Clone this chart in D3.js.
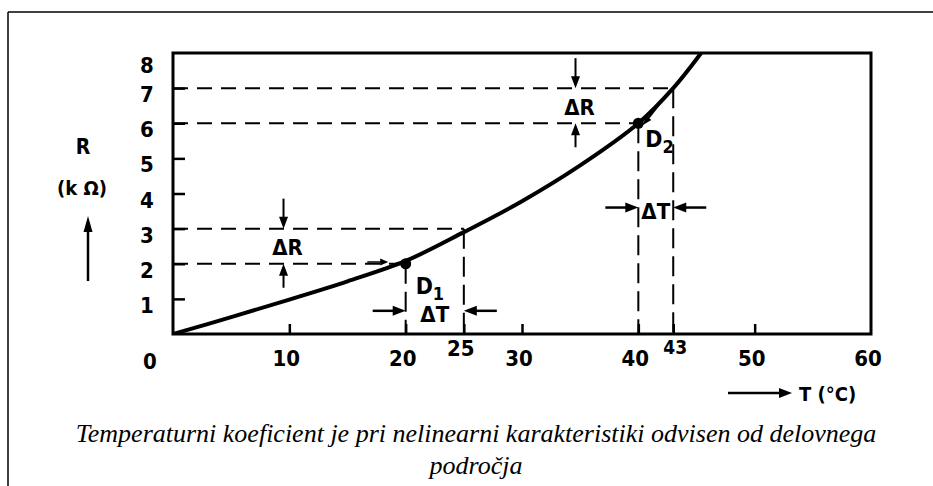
<!DOCTYPE html>
<html>
<head>
<meta charset="utf-8">
<script src="https://cdn.jsdelivr.net/npm/d3@7"></script>
<style>
  html, body { margin: 0; padding: 0; background: #fff; }
  svg { display: block; }
  .lbl { font-family: "DejaVu Sans Condensed", "DejaVu Sans", sans-serif; font-weight: bold; fill: #000; }
  .cap { font-family: "Liberation Serif", "Times New Roman", serif; font-style: italic; fill: #000; }
</style>
</head>
<body>
<svg id="chart" width="933" height="486"></svg>
<script>
// Thermistor characteristic R(T)
const curveT = [0, 5, 10, 15, 20, 25, 30, 35, 40, 43, 45.4];
const curveR = [0, 0.48, 0.98, 1.5, 2.08, 2.9, 3.78, 4.8, 6.0, 7.0, 8.0];

// Operating points D1, D2 and their ΔT / ΔR neighbours
const opNames = ["D1", "D2"];
const opT = [20, 40];
const opR = [2, 6];
const opT2 = [25, 43];
const opR2 = [3, 7];

// Axis ticks
const xTicks = [10, 20, 25, 30, 40, 43, 50, 60];
const xTickLabels = ["10", "20", "25", "30", "40", "43", "50", "60"];
const yTicks = [1, 2, 3, 4, 5, 6, 7, 8];
const yTickLabels = ["1", "2", "3", "4", "5", "6", "7", "8"];

// Where the ΔR and ΔT markers sit
const dRx = [9.5, 34.6];
const dTy = [0.66, 3.6];

const svg = d3.select("#chart");

const x = d3.scaleLinear().domain([0, 60]).range([173, 871]);
const y = d3.scaleLinear().domain([0, 8]).range([334, 53]);

// outer frame (top and left edges)
svg.append("line").attr("x1", 8).attr("y1", 12).attr("x2", 933).attr("y2", 12)
  .attr("stroke", "#000").attr("stroke-width", 1.5);
svg.append("line").attr("x1", 8).attr("y1", 12).attr("x2", 8).attr("y2", 486)
  .attr("stroke", "#000").attr("stroke-width", 1.5);

// arrow head helper
function head(g, tipX, tipY, dir, len = 11, half = 4.5) {
  const [dx, dy] = dir;
  const bx = tipX - dx * len, by = tipY - dy * len;
  const px = -dy * half, py = dx * half;
  g.append("path")
    .attr("d", `M${tipX},${tipY}L${bx + px},${by + py}L${bx - px},${by - py}Z`)
    .attr("fill", "#000");
}
function arrow(g, x1, y1, x2, y2, w = 2, len = 11, half = 4.5) {
  const L = Math.hypot(x2 - x1, y2 - y1);
  const d = [(x2 - x1) / L, (y2 - y1) / L];
  g.append("line").attr("x1", x1).attr("y1", y1)
    .attr("x2", x2 - d[0] * len * 0.8).attr("y2", y2 - d[1] * len * 0.8)
    .attr("stroke", "#000").attr("stroke-width", w);
  head(g, x2, y2, d, len, half);
}

const gAx = svg.append("g");

// x axis with inward ticks
const xAxis = gAx.append("g").attr("transform", `translate(0,${y(0)})`)
  .call(d3.axisBottom(x).tickValues(xTicks.filter(t => t < 60)).tickSize(-10).tickFormat(""));
xAxis.select(".domain").remove();
xAxis.selectAll(".tick line").attr("stroke", "#000").attr("stroke-width", 2.5);

// y axis with inward ticks
const yAxis = gAx.append("g").attr("transform", `translate(${x(0)},0)`)
  .call(d3.axisLeft(y).tickValues(yTicks.filter(t => t < 8)).tickSize(-12).tickFormat(""));
yAxis.select(".domain").remove();
yAxis.selectAll(".tick line").attr("stroke", "#000").attr("stroke-width", 2.5);

// plot frame
gAx.append("rect")
  .attr("x", x(0)).attr("y", y(8))
  .attr("width", x(60) - x(0)).attr("height", y(0) - y(8))
  .attr("fill", "none").attr("stroke", "#000").attr("stroke-width", 3);

// tick labels
const xLabelY = { "25": 356, "43": 354 };
xTicks.forEach((t, i) => {
  const lab = xTickLabels[i];
  svg.append("text").attr("class", "lbl")
    .attr("x", x(t) + (lab === "43" ? 2 : -3))
    .attr("y", xLabelY[lab] || 366)
    .attr("text-anchor", "middle")
    .attr("font-size", lab === "43" ? 19 : 22)
    .text(lab);
});
svg.append("text").attr("class", "lbl").attr("x", 150).attr("y", 369)
  .attr("text-anchor", "middle").attr("font-size", 22).text("0");

yTicks.forEach((t, i) => {
  svg.append("text").attr("class", "lbl")
    .attr("x", 147)
    .attr("y", y(t) + (t === 8 ? 20 : 14))
    .attr("text-anchor", "middle")
    .attr("font-size", 22)
    .text(yTickLabels[i]);
});

// axis titles
svg.append("text").attr("class", "lbl").attr("x", 83).attr("y", 154)
  .attr("text-anchor", "middle").attr("font-size", 21).text("R");
svg.append("text").attr("class", "lbl").attr("x", 82).attr("y", 195)
  .attr("text-anchor", "middle").attr("font-size", 20).text("(k Ω)");
arrow(svg, 88, 281, 88, 216, 2.5, 16, 4.5);

arrow(svg, 728, 393, 792, 393, 2.5, 13, 5);
svg.append("text").attr("class", "lbl").attr("x", 799).attr("y", 401)
  .attr("font-size", 20).text("T (°C)");

// dashed guides for each operating point
const gGuide = svg.append("g")
  .attr("stroke", "#000").attr("stroke-width", 2).attr("stroke-dasharray", "15,9").attr("fill", "none");
opT.forEach((t, i) => {
  [[t, opR[i]], [opT2[i], opR2[i]]].forEach(([tt, rr]) => {
    gGuide.append("line").attr("x1", x(0)).attr("y1", y(rr)).attr("x2", x(tt)).attr("y2", y(rr));
    gGuide.append("line").attr("x1", x(tt)).attr("y1", y(rr)).attr("x2", x(tt)).attr("y2", y(0))
      .attr("stroke-dasharray", "20,8");
  });
});

// characteristic curve
svg.append("clipPath").attr("id", "plotClip").append("rect")
  .attr("x", x(0)).attr("y", y(8)).attr("width", x(60) - x(0)).attr("height", y(0) - y(8));
const line = d3.line().x(d => x(d[0])).y(d => y(d[1])).curve(d3.curveCatmullRom.alpha(0.5));
svg.append("path")
  .attr("clip-path", "url(#plotClip)")
  .attr("d", line(curveT.map((t, i) => [t, curveR[i]])))
  .attr("fill", "none").attr("stroke", "#000").attr("stroke-width", 4);

// operating points
opT.forEach((t, i) => {
  svg.append("circle").attr("cx", x(t)).attr("cy", y(opR[i])).attr("r", 5.5).attr("fill", "#000");
});

// point labels D1, D2
const subLabel = (px, py, main, sub) => {
  const t = svg.append("text").attr("class", "lbl").attr("x", px).attr("y", py).attr("font-size", 23);
  t.append("tspan").text(main);
  t.append("tspan").attr("dy", 6).attr("font-size", 18).text(sub);
};
subLabel(x(opT[0]) + 10, y(opR[0]) + 30, "D", "1");
subLabel(x(opT[1]) + 7, y(opR[1]) + 24, "D", "2");

// ΔR markers
opT.forEach((t, i) => {
  const mx = x(dRx[i]);
  const top = y(opR2[i]), bot = y(opR[i]);
  arrow(svg, mx, top - 30, mx, top, 2, 12, 4.5);
  arrow(svg, mx, bot + 24, mx, bot, 2, 12, 4.5);
  svg.append("text").attr("class", "lbl").attr("x", mx + 4).attr("y", (top + bot) / 2 + 9)
    .attr("text-anchor", "middle").attr("font-size", 22).text("ΔR");
});

// ΔT markers
opT.forEach((t, i) => {
  const my = y(dTy[i]);
  const l = x(t), r = x(opT2[i]);
  arrow(svg, l - 33, my, l, my, 2.5, 13, 5);
  arrow(svg, r + 33, my, r, my, 2.5, 13, 5);
  svg.append("text").attr("class", "lbl").attr("x", (l + r) / 2).attr("y", my + 11)
    .attr("text-anchor", "middle").attr("font-size", 22).text("ΔT");
});

// small pointer marks near the operating points
arrow(svg, x(16.7), y(2.05), x(18.5), y(2.05), 1.5, 8, 3.5);
arrow(svg, x(42.3), y(6.75), x(40.4), y(5.95), 2, 9, 3.5);

// caption
svg.append("text").attr("class", "cap").attr("x", 476).attr("y", 442)
  .attr("text-anchor", "middle").attr("font-size", 26)
  .text("Temperaturni koeficient je pri nelinearni karakteristiki odvisen od delovnega");
svg.append("text").attr("class", "cap").attr("x", 476).attr("y", 474)
  .attr("text-anchor", "middle").attr("font-size", 26)
  .text("področja");
</script>
</body>
</html>
